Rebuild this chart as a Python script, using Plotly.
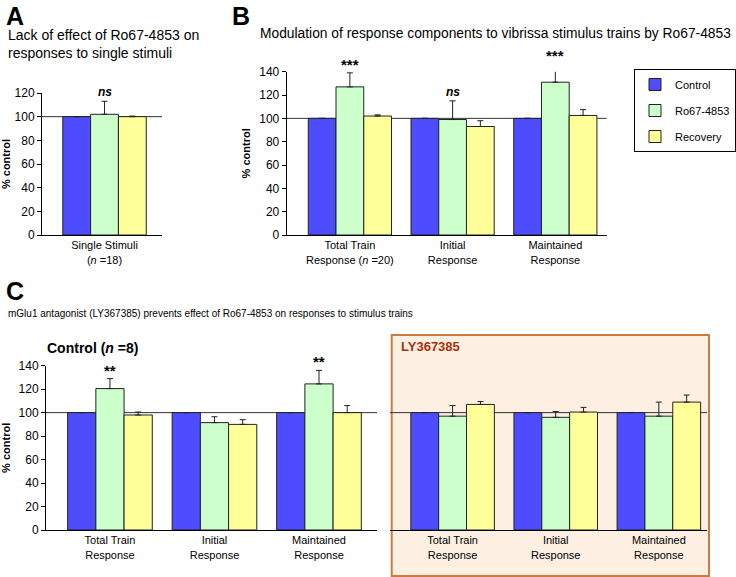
import plotly.graph_objects as go

W, H = 736, 577

# ---------------- data ----------------
series_names = ["Control", "Ro67-4853", "Recovery"]
series_colors = ["#4d4dff", "#ccffcc", "#ffff99"]

catA = ["Single Stimuli<br>(<i>n</i> =18)"]
A_ctrl = [100]
A_ro = [102]
A_rec = [100]
A_ctrl_err = [0]
A_ro_err = [11]
A_rec_err = [0.5]

catB = ["Total Train<br>Response (<i>n</i> =20)", "Initial<br>Response", "Maintained<br>Response"]
B_ctrl = [100, 100, 100]
B_ro = [127, 99, 131]
B_rec = [102, 93, 102.5]
B_ctrl_err = [0, 0, 0]
B_ro_err = [12, 16, 16]
B_rec_err = [1, 5, 5]

catC = ["Total Train<br>Response", "Initial<br>Response", "Maintained<br>Response"]
C_ctrl = [100, 100, 100]
C_ro = [120.5, 91.5, 124.5]
C_rec = [98, 90, 100]
C_ctrl_err = [0, 0, 0]
C_ro_err = [8.5, 5, 11.5]
C_rec_err = [2.5, 4, 6]

catD = ["Total Train<br>Response", "Initial<br>Response", "Maintained<br>Response"]
D_ctrl = [100, 100, 100]
D_ro = [97, 96, 97]
D_rec = [107, 100.5, 109]
D_ctrl_err = [0, 0, 0]
D_ro_err = [9, 5, 12]
D_rec_err = [2.5, 4, 6]

sigA = [("ns", 0)]
sigB = [("***", 0), ("ns", 1), ("***", 2)]
sigC = [("**", 0), ("**", 2)]

# --------------- helpers ---------------
FONT = "Arial, Liberation Sans, sans-serif"


def px(x):
    return x / W


def py(y):
    return 1 - y / H


fig = go.Figure()


def add_panel(cats, vals, errs, xa, ya, showlegend=False):
    for i, (name, col) in enumerate(zip(series_names, series_colors)):
        fig.add_trace(go.Bar(
            x=cats, y=vals[i], name=name, xaxis=xa, yaxis=ya,
            marker=dict(color=col, line=dict(color="#222222", width=1)),
            error_y=dict(type="data", array=errs[i], arrayminus=[0] * len(cats),
                         symmetric=False, color="#222222", thickness=1, width=3,
                         visible=True),
            showlegend=showlegend, legendgroup=name, offsetgroup=str(i),
        ))


add_panel(catA, [A_ctrl, A_ro, A_rec], [A_ctrl_err, A_ro_err, A_rec_err], "x", "y")
add_panel(catB, [B_ctrl, B_ro, B_rec], [B_ctrl_err, B_ro_err, B_rec_err], "x2", "y2", showlegend=True)
add_panel(catC, [C_ctrl, C_ro, C_rec], [C_ctrl_err, C_ro_err, C_rec_err], "x3", "y3")
add_panel(catD, [D_ctrl, D_ro, D_rec], [D_ctrl_err, D_ro_err, D_rec_err], "x4", "y4")

tickfont = dict(family=FONT, size=11, color="black")
yax_common = dict(showline=True, linecolor="black", linewidth=1, ticks="outside",
                  ticklen=4, tickcolor="black", tickfont=dict(family=FONT, size=12, color="black"),
                  showgrid=False, zeroline=False, fixedrange=True, automargin=False,
                  title=dict(text="<b>% control</b>", font=dict(family=FONT, size=11, color="black"),
                             standoff=6))
xax_common = dict(showline=True, linecolor="black", linewidth=1, ticks="",
                  tickfont=tickfont, showgrid=False, zeroline=False, fixedrange=True,
                  type="category", automargin=False)

fig.update_layout(
    width=W, height=H, margin=dict(l=0, r=0, t=0, b=0, autoexpand=False),
    paper_bgcolor="white", plot_bgcolor="rgba(0,0,0,0)",
    barmode="group", bargap=0.19, bargroupgap=0,
    font=dict(family=FONT, color="black"),
    xaxis=dict(xax_common, domain=[px(42), px(162)], anchor="y", range=[-0.607, 0.558]),
    yaxis=dict(yax_common, domain=[py(235), py(93)], anchor="x", range=[0, 120], dtick=20),
    xaxis2=dict(xax_common, domain=[px(286.7), px(606.7)], anchor="y2", range=[-0.615, 2.5]),
    yaxis2=dict(yax_common, domain=[py(235), py(71.7)], anchor="x2", range=[0, 140], dtick=20),
    xaxis3=dict(xax_common, domain=[px(46), px(377)], anchor="y3", range=[-0.612, 2.555]),
    yaxis3=dict(yax_common, domain=[py(530), py(365.7)], anchor="x3", range=[0, 140], dtick=20),
    xaxis4=dict(xax_common, domain=[px(390), px(707)], anchor="y4", range=[-0.607, 2.467]),
    yaxis4=dict(domain=[py(530), py(365.7)], anchor="x4", range=[0, 140], visible=False,
                fixedrange=True, automargin=False),
    legend=dict(x=1, y=py(69), xanchor="right", yanchor="top",
                bordercolor="black", borderwidth=1, bgcolor="white",
                font=dict(family=FONT, size=11, color="black"),
                traceorder="grouped", tracegroupgap=7, itemwidth=30),
    showlegend=True,
)

shapes = []
# LY367385 background box
shapes.append(dict(type="rect", xref="paper", yref="paper",
                   x0=px(391.7), x1=px(709), y0=py(576), y1=py(335),
                   fillcolor="#fdf0e3", line=dict(color="#cc7a40", width=2), layer="below"))
# 100% reference lines
for xa, ya in [("x", "y"), ("x2", "y2"), ("x3", "y3"), ("x4", "y4")]:
    shapes.append(dict(type="line", xref=f"{xa} domain", yref=ya, x0=0, x1=1, y0=100, y1=100,
                       line=dict(color="#333333", width=1), layer="below"))
fig.update_layout(shapes=shapes)

ann = []


def text(x, y, s, size=13, bold=False, color="black", xanchor="left", yanchor="middle", family=FONT):
    if bold:
        s = f"<b>{s}</b>"
    ann.append(dict(x=px(x), y=py(y), xref="paper", yref="paper", text=s, showarrow=False,
                    xanchor=xanchor, yanchor=yanchor, align="left",
                    font=dict(family=family, size=size, color=color)))


text(4, 16, "A", size=25, bold=True)
text(230, 16, "B", size=25, bold=True)
text(4, 291, "C", size=25, bold=True)
text(6, 35, "Lack of effect of Ro67-4853 on", size=14)
text(6, 53, "responses to single stimuli", size=14)
text(258, 34, "Modulation of response components to vibrissa stimulus trains by Ro67-4853", size=13.8)
text(6, 313, "mGlu1 antagonist (LY367385) prevents effect of Ro67-4853 on responses to stimulus trains",
     size=10)
text(45, 348, "Control (<i>n</i> =8)", size=14, bold=True)
text(399, 346, "LY367385", size=13, bold=True, color="#a8320a")


def sig(marks, cats, ro, ro_err, xa, ya, ymax):
    for s, i in marks:
        label = "<b><i>ns</i></b>" if s == "ns" else f"<b>{s}</b>"
        size = 12 if s == "ns" else 15
        ann.append(dict(x=cats[i], y=(ro[i] + ro_err[i]) / ymax, xref=xa, yref=f"{ya} domain",
                        text=label, showarrow=False, yanchor="bottom",
                        yshift=-2 if s != "ns" else 0,
                        font=dict(family=FONT, size=size, color="black")))


sig(sigA, catA, A_ro, A_ro_err, "x", "y", 120)
sig(sigB, catB, B_ro, B_ro_err, "x2", "y2", 140)
sig(sigC, catC, C_ro, C_ro_err, "x3", "y3", 140)

fig.update_layout(annotations=ann)

fig.write_html("out.html", config={"displayModeBar": False},
               post_script="document.body.style.margin='0';")
